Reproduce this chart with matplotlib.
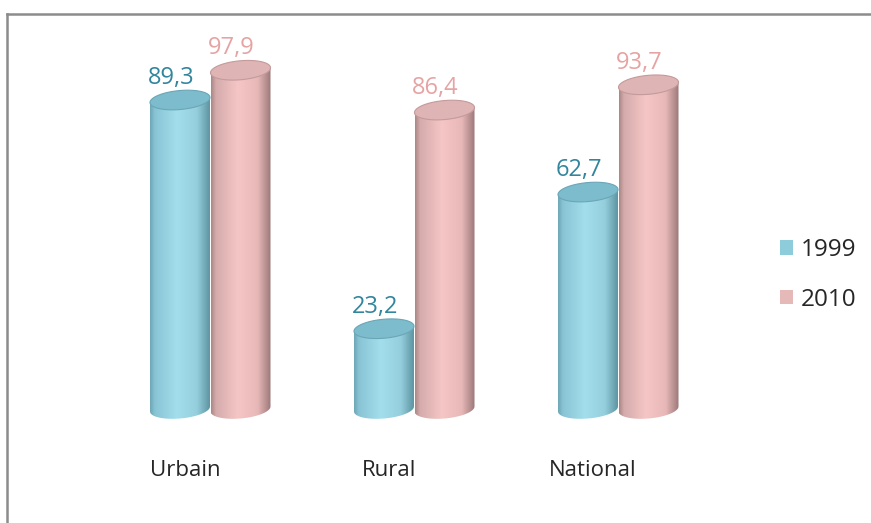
import numpy as np
import matplotlib.pyplot as plt
from matplotlib.colors import LinearSegmentedColormap
from matplotlib.patches import Polygon, Patch
from matplotlib.lines import Line2D

plt.rcParams['font.family'] = ['Open Sans', 'DejaVu Sans']

categories = ['Urbain', 'Rural', 'National']
series = ['1999', '2010']
values_1999 = [89.3, 23.2, 62.7]
values_2010 = [97.9, 86.4, 93.7]

W, H = 871, 523
fig = plt.figure(figsize=(W / 100, H / 100), dpi=100)
ax = fig.add_axes([0, 0, 1, 1])
ax.set_axis_off()

# pixel mapping: group centre spacing 204 px, 3.46 px per unit, base at 409 px from top
px_x = 204.0
px_y = 3.46
xlim = (-210 / px_x, (W - 210) / px_x)
ylim = (-(H - 409) / px_y, 409 / px_y)

cyl_w = 60 / px_x          # cylinder width in category units
b_px, tilt_px = 9.5, 2.5   # ellipse semi-minor and tilt in pixels

blue_cmap = LinearSegmentedColormap.from_list('b', [
    (0.0, '#6ea6b5'), (0.08, '#88c4d4'), (0.45, '#a3deec'),
    (0.78, '#95cfde'), (1.0, '#5f94a2')])
pink_cmap = LinearSegmentedColormap.from_list('p', [
    (0.0, '#a98585'), (0.08, '#d5abab'), (0.45, '#f6c6c6'),
    (0.78, '#e8b8b8'), (1.0, '#9c7878')])
styles = {
    '1999': dict(cmap=blue_cmap, top='#7dbccc', edge='#6ba6b6', text='#31859c', leg='#8ecbdb'),
    '2010': dict(cmap=pink_cmap, top='#dfb4b4', edge='#c49a9a', text='#e6a3a3', leg='#e6b9b9'),
}


def cylinder(xc, v, st):
    a = cyl_w / 2
    b = b_px / px_y
    tl = tilt_px / px_y
    t = np.linspace(np.pi, 2 * np.pi, 60)
    bx = xc + a * np.cos(t)
    by = b * np.sin(t) + tl * np.cos(t)
    body = np.vstack([[xc - a, v - tl]] + list(zip(bx, by)) + [[xc + a, v + tl]])
    poly = Polygon(body, closed=True, facecolor='none', edgecolor='none')
    ax.add_patch(poly)
    grad = np.linspace(0, 1, 256).reshape(1, -1)
    im = ax.imshow(grad, cmap=st['cmap'], aspect='auto', interpolation='bicubic',
                   extent=[xc - a, xc + a, -b - tl, v + tl], zorder=2)
    im.set_clip_path(poly)
    tt = np.linspace(0, 2 * np.pi, 120)
    top = np.column_stack([xc + a * np.cos(tt), v + b * np.sin(tt) + tl * np.cos(tt)])
    ax.add_patch(Polygon(top, closed=True, facecolor=st['top'], edgecolor=st['edge'],
                         lw=0.8, zorder=3))
    ax.text(xc - 9 / px_x, v + 16 / px_y, f'{v:.1f}'.replace('.', ','),
            ha='center', va='baseline', fontsize=17, color=st['text'], zorder=4)


x = np.arange(len(categories))
for i in x:
    cylinder(i - 30 / px_x, values_1999[i], styles['1999'])
    cylinder(i + 30.5 / px_x, values_2010[i], styles['2010'])
    ax.text(i - 25 / px_x, -(471 - 409) / px_y, categories[i], ha='center', va='center',
            fontsize=16, color='#262626')

ax.set_xlim(*xlim)
ax.set_ylim(*ylim)

handles = [Patch(facecolor=styles[s]['leg'], edgecolor='none') for s in series]
fig.legend(handles, series, loc='upper left', bbox_to_anchor=(780 / W, 1 - 238 / H),
           frameon=False, fontsize=17.5, handlelength=0.55, handleheight=0.55,
           handletextpad=0.3, labelspacing=1.05, borderpad=0, borderaxespad=0,
           labelcolor='#262626')

# chart frame
fig.add_artist(Line2D([7 / W, 7 / W], [0, 1 - 14 / H], color='#8c8c8c', lw=1.8,
                      transform=fig.transFigure))
fig.add_artist(Line2D([7 / W, 1], [1 - 14 / H, 1 - 14 / H], color='#8c8c8c', lw=1.8,
                      transform=fig.transFigure))

fig.savefig('out.png', dpi=100)
